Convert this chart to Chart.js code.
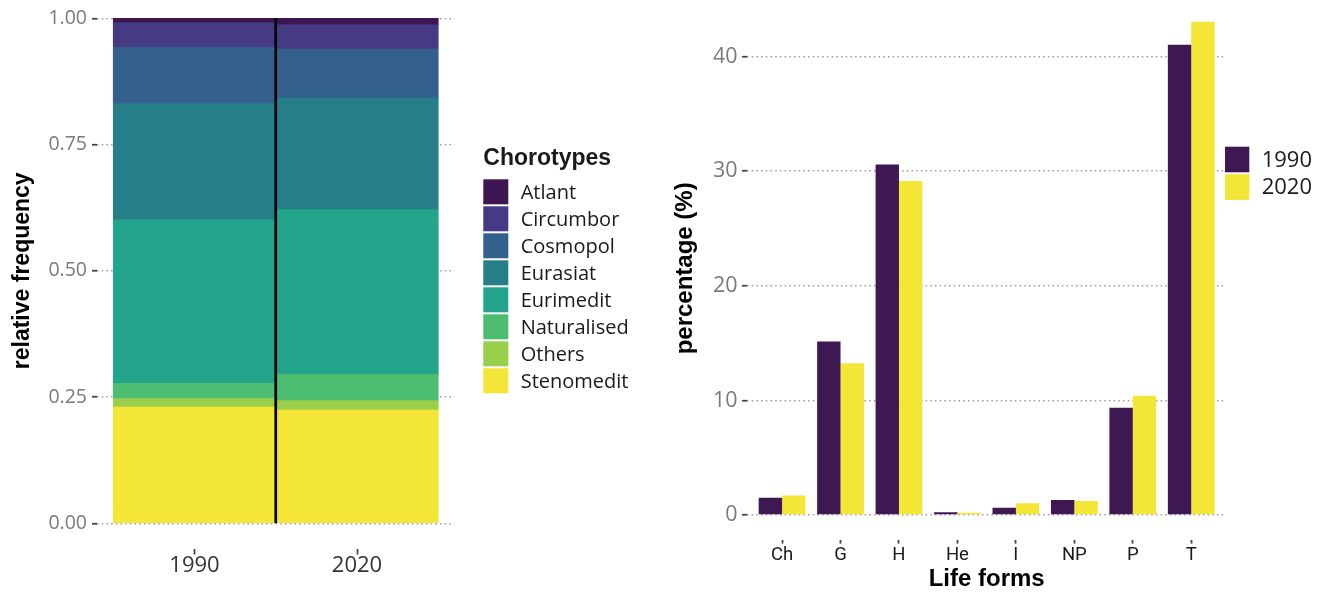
<!DOCTYPE html>
<html>
<head>
<meta charset="utf-8">
<title>Chorotypes and life forms, 1990 vs 2020</title>
<script src="https://cdn.jsdelivr.net/npm/chart.js@4.4.1/dist/chart.umd.min.js"></script>
<style>
  html, body { margin: 0; padding: 0; background: #fff; }
  #wrap { position: relative; width: 1330px; height: 594px; overflow: hidden; }
  #chorotypes { position: absolute; left: 0; top: -40px; }
  #lifeforms { position: absolute; left: 660px; top: -40px; }
</style>
</head>
<body>
<div id="wrap">
  <canvas id="chorotypes" width="660" height="634"></canvas>
  <canvas id="lifeforms" width="670" height="634"></canvas>
</div>
<script>
// ---- chorotype spectrum (relative frequency per survey year) ----
const years = ['1990', '2020'];
const chorotypes = ['Atlant', 'Circumbor', 'Cosmopol', 'Eurasiat', 'Eurimedit', 'Naturalised', 'Others', 'Stenomedit'];
const chorotypeColors = ['#3d1752', '#463a85', '#34608e', '#267e89', '#22a58a', '#4dbd72', '#9acf4b', '#f4e637'];
const share1990 = [0.009, 0.048, 0.112, 0.230, 0.324, 0.030, 0.017, 0.230];
const share2020 = [0.013, 0.048, 0.097, 0.221, 0.326, 0.052, 0.019, 0.224];
const shareTicks = [0, 0.25, 0.5, 0.75, 1];

// ---- life-form spectrum (percentage of species) ----
const lifeForms = ['Ch', 'G', 'H', 'He', 'I', 'NP', 'P', 'T'];
const pct1990 = [1.5, 15.15, 30.6, 0.23, 0.64, 1.31, 9.35, 41.05];
const pct2020 = [1.7, 13.25, 29.15, 0.2, 1.02, 1.22, 10.4, 43.05];
const pctTicks = [0, 10, 20, 30, 40];
const yearColors = ['#3d1853', '#f4e637'];

const tickGray = '#7a7a7a';
const tickMark = '#444';
const gridGray = '#9c9c9c';
const gridDash = [1.5, 3.2];

// Side key drawn next to the panel: swatches + labels from the datasets
const keyLegend = {
  id: 'keyLegend',
  afterDraw(chart, _args, o) {
    const ctx = chart.ctx;
    let items = chart.data.datasets.map(d => ({ text: d.label, fill: d.backgroundColor }));
    if (o.reverse) items = items.reverse();
    ctx.save();
    ctx.textAlign = 'left';
    ctx.textBaseline = 'middle';
    if (o.title) {
      ctx.font = o.titleFont;
      ctx.fillStyle = o.color;
      ctx.fillText(o.title, o.left, o.titleY);
    }
    ctx.font = o.font;
    items.forEach((it, i) => {
      const top = o.top + i * o.step;
      ctx.fillStyle = it.fill;
      ctx.fillRect(o.left, top, o.boxWidth, o.boxHeight);
      ctx.fillStyle = o.color;
      ctx.fillText(it.text, o.textLeft, top + o.boxHeight / 2 + 1);
    });
    ctx.restore();
  }
};

// Vertical rule separating the two survey years
const yearDivider = {
  id: 'yearDivider',
  afterDatasetsDraw(chart, _args, o) {
    const { x, y } = chart.scales;
    const px = x.getPixelForValue(o.at);
    const ctx = chart.ctx;
    ctx.save();
    ctx.strokeStyle = o.color;
    ctx.lineWidth = o.width;
    ctx.beginPath();
    ctx.moveTo(px, y.getPixelForValue(o.to));
    ctx.lineTo(px, y.getPixelForValue(o.from));
    ctx.stroke();
    ctx.restore();
  }
};

// ---------- left: stacked chorotype bars ----------
const chorotypeSets = chorotypes.map((name, i) => ({
  label: name,
  backgroundColor: chorotypeColors[i],
  borderWidth: 0,
  categoryPercentage: 1,
  barPercentage: 1,
  data: [{ x: 1, y: share1990[i] }, { x: 2, y: share2020[i] }]
})).reverse(); // Stenomedit at the base, Atlant on top

new Chart(document.getElementById('chorotypes'), {
  type: 'bar',
  data: { datasets: chorotypeSets },
  options: {
    responsive: false,
    animation: false,
    devicePixelRatio: 1,
    layout: { padding: { top: 33, right: 205.5, left: 0, bottom: 0 } },
    plugins: {
      legend: { display: false },
      tooltip: { enabled: false },
      keyLegend: {
        reverse: true,
        title: 'Chorotypes',
        titleFont: 'bold 23px "Liberation Sans", Arial, sans-serif',
        titleY: 199,
        font: '20px "Open Sans", sans-serif',
        color: '#1a1a1a',
        left: 483.3, top: 219.3, step: 27, boxWidth: 25, boxHeight: 25, textLeft: 520.7
      },
      yearDivider: { at: 1.5, from: 0, to: 1, width: 2.7, color: '#000' }
    },
    scales: {
      x: {
        type: 'linear',
        stacked: true,
        offset: false,
        min: 0.4,
        max: 2.6,
        afterBuildTicks: s => { s.ticks = years.map((_, i) => ({ value: i + 1 })); },
        afterFit: s => { s.height = 45.45; },
        ticks: {
          callback: v => years[v - 1],
          font: { family: '"Open Sans", sans-serif', size: 22, lineHeight: 1 },
          color: '#333',
          padding: 0,
          maxRotation: 0,
          autoSkip: false
        },
        grid: { display: true, drawOnChartArea: false, offset: false, tickLength: 6, tickColor: tickMark, tickWidth: 1.7 },
        border: { display: false }
      },
      y: {
        stacked: true,
        min: -0.05,
        max: 1.05,
        afterBuildTicks: s => { s.ticks = shareTicks.map(v => ({ value: v })); },
        afterFit: s => { s.width = 97; },
        ticks: {
          callback: v => Number(v).toFixed(2),
          font: { family: '"Open Sans", sans-serif', size: 19.5 },
          color: tickGray,
          padding: 5
        },
        grid: { color: gridGray, lineWidth: 1.5, tickBorderDash: [], tickLength: 5, tickColor: tickMark, tickWidth: 1.8 },
        border: { display: false, dash: gridDash },
        title: {
          display: true,
          text: 'relative frequency',
          font: { family: '"Liberation Sans", Arial, sans-serif', size: 23, weight: 'bold' },
          color: '#000',
          padding: { top: 9.2, bottom: 0 }
        }
      }
    }
  },
  plugins: [keyLegend, yearDivider]
});

// ---------- right: grouped life-form bars ----------
new Chart(document.getElementById('lifeforms'), {
  type: 'bar',
  data: {
    datasets: [
      { label: years[0], backgroundColor: yearColors[0], borderWidth: 0, categoryPercentage: 0.8, barPercentage: 1,
        data: lifeForms.map((_, i) => ({ x: i, y: pct1990[i] })) },
      { label: years[1], backgroundColor: yearColors[1], borderWidth: 0, categoryPercentage: 0.8, barPercentage: 1,
        data: lifeForms.map((_, i) => ({ x: i, y: pct2020[i] })) }
    ]
  },
  options: {
    responsive: false,
    animation: false,
    devicePixelRatio: 1,
    layout: { padding: { top: 37.1, right: 103.7, left: 0, bottom: 0 } },
    plugins: {
      legend: { display: false },
      tooltip: { enabled: false },
      keyLegend: {
        reverse: false,
        font: '22px "Open Sans", sans-serif',
        color: '#1a1a1a',
        left: 565, top: 186.7, step: 27.6, boxWidth: 24.3, boxHeight: 25.6, textLeft: 601.7
      }
    },
    scales: {
      x: {
        type: 'linear',
        offset: false,
        min: -0.6,
        max: 7.6,
        afterBuildTicks: s => { s.ticks = lifeForms.map((_, i) => ({ value: i })); },
        afterFit: s => { s.height = 54.4; },
        ticks: {
          callback: v => lifeForms[v],
          font: { family: 'Roboto, sans-serif', size: 18.5, lineHeight: 1 },
          color: '#1a1a1a',
          padding: 3,
          maxRotation: 0,
          autoSkip: false
        },
        grid: { display: true, drawOnChartArea: false, offset: false, tickLength: 4, tickColor: tickMark, tickWidth: 1.8 },
        border: { display: false },
        title: {
          display: true,
          text: 'Life forms',
          font: { family: '"Liberation Sans", Arial, sans-serif', size: 24, weight: 'bold' },
          color: '#000',
          padding: { top: 0, bottom: 0 }
        }
      },
      y: {
        min: -2.15,
        max: 45.2,
        afterBuildTicks: s => { s.ticks = pctTicks.map(v => ({ value: v })); },
        afterFit: s => { s.width = 87; },
        ticks: {
          callback: v => String(v),
          font: { family: '"Open Sans", sans-serif', size: 21.5 },
          color: tickGray,
          padding: 4.5
        },
        grid: { color: gridGray, lineWidth: 1.5, tickBorderDash: [], tickLength: 5, tickColor: tickMark, tickWidth: 1.8 },
        border: { display: false, dash: gridDash },
        title: {
          display: true,
          text: 'percentage (%)',
          font: { family: '"Liberation Sans", Arial, sans-serif', size: 24, weight: 'bold' },
          color: '#000',
          padding: { top: 10.6, bottom: 0 }
        }
      }
    }
  },
  plugins: [keyLegend]
});
</script>
</body>
</html>
